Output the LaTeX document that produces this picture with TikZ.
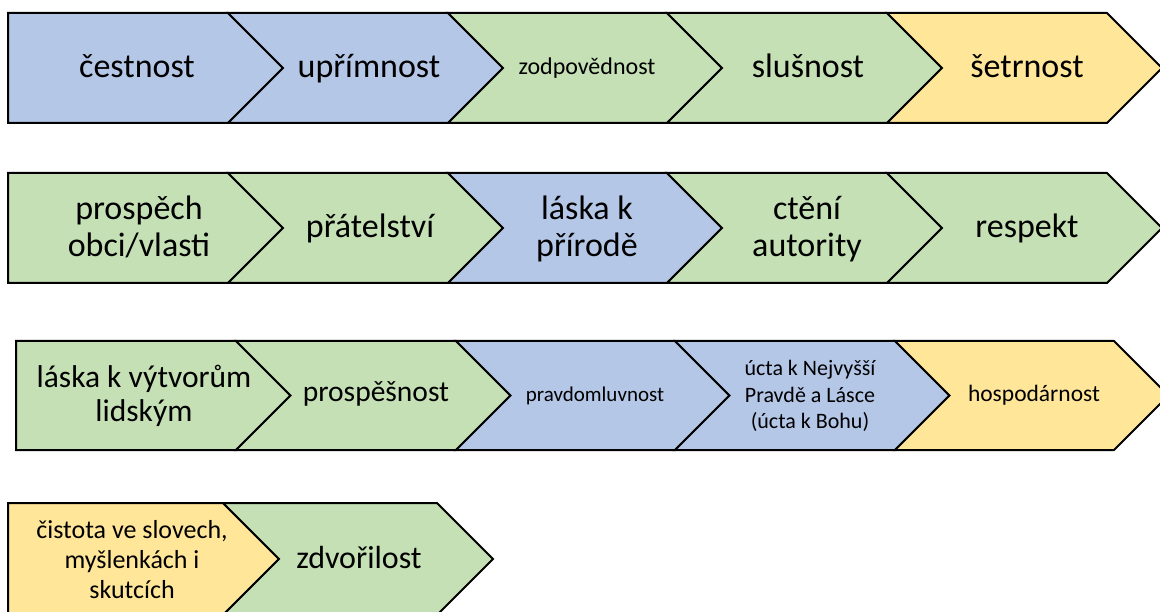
\documentclass[tikz,border=0pt]{standalone}
\usepackage{fontspec}
\setmainfont{Carlito}
\definecolor{cblue}{HTML}{B4C7E7}
\definecolor{cgreen}{HTML}{C5E0B4}
\definecolor{cyellow}{HTML}{FFE699}
\tikzset{
  chev/.style={draw=black, line width=2pt, line join=miter},
  lbl/.style={align=center, inner sep=0pt, text=black, anchor=base},
}
% #1 fill, #2 left x, #3 right x, #4 top y, #5 bottom y, #6 notch (0/1)
\newcommand\chevshape[6]{%
  \path[chev, fill=#1] (#2,#4) -- (#3,#4) -- ({#3+(#5-#4)/2},{(#4+#5)/2}) -- (#3,#5) -- (#2,#5) -- ({#2+#6*(#5-#4)/2},{(#4+#5)/2}) -- cycle;}
\newcommand\fs[2]{\fontsize{#1}{#2}\selectfont}
\begin{document}
\begin{tikzpicture}[x=1pt,y=-1pt]
\useasboundingbox (0,0) rectangle (1160,612);
\clip (0,0) rectangle (1160,612);
% Row 1
\chevshape{cblue}{8}{228}{13}{123}{0}
\chevshape{cblue}{228}{448}{13}{123}{1}
\chevshape{cgreen}{448}{667}{13}{123}{1}
\chevshape{cgreen}{667}{887}{13}{123}{1}
\chevshape{cyellow}{887}{1107}{13}{123}{1}
\node[lbl, font=\fs{34}{40}] (r1a) at (137,78) {čestnost};
\node[lbl, font=\fs{34}{40}] (r1b) at (369,78) {upřímnost};
\node[lbl, font=\fs{24}{28}] (r1c) at (587,75) {zodpovědnost};
\node[lbl, font=\fs{34}{40}] (r1d) at (808,78) {slušnost};
\node[lbl, font=\fs{34}{40}] (r1e) at (1027,78) {šetrnost};
% Row 2
\chevshape{cgreen}{8}{228}{173}{283}{0}
\chevshape{cgreen}{228}{448}{173}{283}{1}
\chevshape{cblue}{448}{667}{173}{283}{1}
\chevshape{cgreen}{667}{887}{173}{283}{1}
\chevshape{cgreen}{887}{1107}{173}{283}{1}
\node[lbl, font=\fs{34}{37}] (r2a) at (139,257) {prospěch\\obci/vlasti};
\node[lbl, font=\fs{34}{40}] (r2b) at (370,238) {přátelství};
\node[lbl, font=\fs{34}{37}] (r2c) at (587,257) {láska k\\přírodě};
\node[lbl, font=\fs{34}{37}] (r2d) at (807,257) {ctění\\autority};
\node[lbl, font=\fs{34}{40}] (r2e) at (1027,238) {respekt};
% Row 3
\chevshape{cgreen}{16}{236}{341}{450}{0}
\chevshape{cgreen}{236}{456}{341}{450}{1}
\chevshape{cblue}{456}{675}{341}{450}{1}
\chevshape{cblue}{675}{895}{341}{450}{1}
\chevshape{cyellow}{895}{1114}{341}{450}{1}
\node[lbl, font=\fs{31.5}{34}] (r3a) at (144,421) {láska k výtvorům\\lidským};
\node[lbl, font=\fs{29.5}{34}] (r3b) at (376,402) {prospěšnost};
\node[lbl, font=\fs{21}{25}] (r3c) at (595,402) {pravdomluvnost};
\node[lbl, font=\fs{22}{26.5}] (r3d) at (810,428.5) {úcta k Nejvyšší\\Pravdě a Lásce\\(úcta k Bohu)};
\node[lbl, font=\fs{23.5}{28}] (r3e) at (1034,402) {hospodárnost};
% Row 4
\chevshape{cyellow}{8}{223}{503}{615}{0}
\chevshape{cgreen}{223}{437}{503}{615}{1}
\node[lbl, font=\fs{26}{30}] (r4a) at (132,598) {čistota ve slovech,\\myšlenkách i\\skutcích};
\node[lbl, font=\fs{32}{38}] (r4b) at (359,568) {zdvořilost};
\end{tikzpicture}
\end{document}
